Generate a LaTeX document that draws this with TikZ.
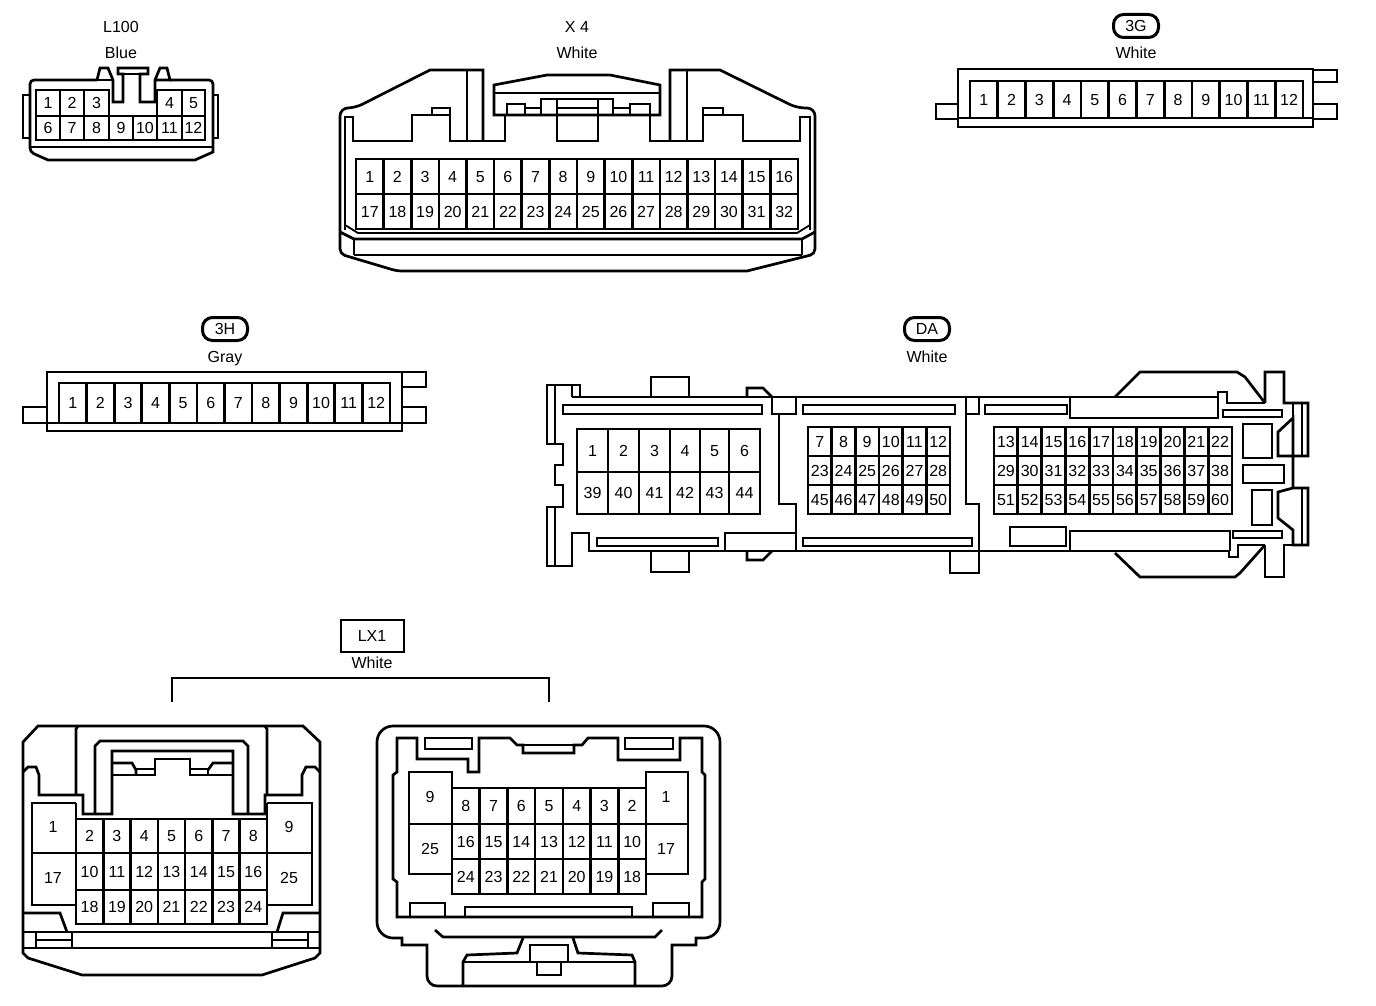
\documentclass[tikz,border=0pt]{standalone}
\usepackage{fontspec}
\setmainfont{Liberation Sans}
\tikzset{
  wire/.style={draw=black,line width=2.7pt,line join=miter},
  thin wire/.style={draw=black,line width=1.8pt},
  pinnum/.style={inner sep=0pt,text height=11.5pt,text depth=0pt,font=\fontsize{16}{16}\selectfont},
  caption/.style={inner sep=0pt,text height=11.5pt,text depth=3pt,yshift=-1.5pt,font=\fontsize{16}{16}\selectfont},
  tagoval/.style={draw=black,line width=3pt,rounded corners=10pt,minimum width=45pt,minimum height=23pt,inner sep=0pt,font=\fontsize{16}{16}\selectfont},
  tagbox/.style={draw=black,line width=2pt,minimum width=63pt,minimum height=32pt,inner sep=0pt,font=\fontsize{16}{16}\selectfont}
}
% prefix, x0, x1, y0, y1, first number, count, step
\newcommand{\pingrid}[8]{%
  \pgfmathsetmacro\cellw{(#3-#2)/#7}%
  \foreach \k in {1,...,#7}{%
    \pgfmathtruncatemacro\pinno{#6+(\k-1)*(#8)}%
    \pgfmathsetmacro\xa{#2+(\k-1)*\cellw}%
    \pgfmathsetmacro\xb{#2+\k*\cellw}%
    \pgfmathsetmacro\xm{(\xa+\xb)/2}%
    \pgfmathsetmacro\ym{(#4+#5)/2}%
    \draw[wire] (\xa,#4) rectangle (\xb,#5);
    \node[pinnum] (#1\pinno) at (\xm,\ym) {\pinno};
  }%
}
% prefix, y0, y1, list x0/x1/number
\newcommand{\pincells}[4]{%
  \foreach \xa/\xb/\pinno in {#4}{%
    \pgfmathsetmacro\xm{(\xa+\xb)/2}%
    \pgfmathsetmacro\ym{(#2+#3)/2}%
    \draw[wire] (\xa,#2) rectangle (\xb,#3);
    \node[pinnum] (#1\pinno) at (\xm,\ym) {\pinno};
  }%
}
\begin{document}
\begin{tikzpicture}[x=1pt,y=-1pt]
\useasboundingbox[fill=white] (0,0) rectangle (1376,1006);

% ---------- captions ----------
\node[caption] (capL) at (121,27) {L100};
\node[caption] (colL) at (121,53) {Blue};
\node[caption] (capX) at (577,27) {X 4};
\node[caption] (colX) at (577,53) {White};
\node[tagoval] (cap3G) at (1136,26) {3G};
\node[caption] (col3G) at (1136,53) {White};
\node[tagoval] (cap3H) at (225,329) {3H};
\node[caption] (col3H) at (225,357) {Gray};
\node[tagoval] (capDA) at (927,329) {DA};
\node[caption] (colDA) at (927,357) {White};
\node[tagbox] (capLX) at (372,636) {LX1};
\node[caption] (colLX) at (372,663) {White};
\draw[wire] (172,702) -- (172,678) -- (549,678) -- (549,702);

% ---------- L100 ----------
\draw[wire] (97,80) -- (36,80) [rounded corners=4pt] -- (30,80) -- (30,152) [sharp corners] -- (48,160) -- (195,160) -- (213,152) [rounded corners=4pt] -- (213,80) [sharp corners] -- (170,80);
\draw[wire] (30,147) -- (213,147);
\draw[wire] (30,95) -- (23,95) -- (23,138) -- (30,138);
\draw[wire] (213,95) -- (218,95) -- (218,138) -- (213,138);
\draw[wire] (97,80) -- (100,68) -- (108,68) -- (113,80) -- (113,102) -- (123,102) -- (123,74) -- (118,74) -- (118,68) -- (148,68) -- (148,74) -- (140,74) -- (140,102) -- (155,102) -- (155,80) -- (160,68) -- (167,68) -- (170,80) -- (155,80);
\draw[wire] (118,74) -- (148,74);
\draw[wire] (97,80) -- (113,80);
\pincells{lh}{90}{116}{36/60/1,60/84/2,84/109/3,157/182/4,182/205/5}
\pincells{lh}{116}{140}{36/60/6,60/84/7,84/109/8,109/133/9,133/157/10,157/182/11,182/205/12}

% ---------- X 4 ----------
\draw[wire] (340,245) [rounded corners=8pt] -- (340,108) -- (355,108) [sharp corners] -- (430,70) -- (483,70) -- (483,141);
\draw[wire] (467,70) -- (467,141);
\draw[wire] (815,245) [rounded corners=8pt] -- (815,108) -- (797,108) [sharp corners] -- (720,70) -- (670,70) -- (670,141);
\draw[wire] (687,70) -- (687,141);
\draw[wire] (345,230) -- (345,117) -- (353,117) -- (353,141) -- (412,141) -- (412,115) -- (432,115) -- (432,108) -- (450,108) -- (450,141) -- (505,141) -- (505,115);
\draw[wire] (432,115) -- (450,115);
\draw[wire] (810,230) -- (810,117) -- (800,117) -- (800,141) -- (743,141) -- (743,115) -- (723,115) -- (723,108) -- (703,108) -- (703,141) -- (650,141) -- (650,115);
\draw[wire] (703,115) -- (723,115);
\draw[wire] (494,115) -- (494,85) -- (547,75) -- (610,75) -- (660,85) -- (660,115) -- cycle;
\draw[wire] (494,93) -- (660,93);
\draw[wire] (507,115) -- (507,104) -- (525,104) -- (525,115);
\draw[wire] (630,115) -- (630,104) -- (650,104) -- (650,115);
\draw[wire] (525,108) -- (541,108);
\draw[wire] (613,108) -- (630,108);
\draw[wire] (541,115) -- (541,99) -- (613,99) -- (613,115);
\draw[wire] (557,99) -- (557,141) -- (598,141) -- (598,99);
\draw[wire] (557,108) -- (598,108);
\pingrid{xa}{356}{798}{159}{194}{1}{16}{1}
\pingrid{xb}{356}{798}{194}{229}{17}{16}{1}
\draw[thin wire] (345,225) -- (358,233) -- (797,233) -- (810,225);
\draw[wire] (340,232) -- (354,239) -- (802,239) -- (815,232);
\draw[wire] (354,239) -- (354,255);
\draw[wire] (802,239) -- (802,255);
\draw[wire] (354,255) -- (802,255);
\draw[wire] (340,245) [rounded corners=5pt] -- (340,254) -- (397,271) [sharp corners] -- (747,271) [rounded corners=5pt] -- (815,254) [sharp corners] -- (815,245);

% ---------- 3G ----------
\draw[wire] (958,69) rectangle (1313,127);
\draw[wire] (958,118) -- (1313,118);
\pingrid{ga}{970}{1303}{81}{118}{1}{12}{1}
\draw[wire] (958,104) -- (936,104) -- (936,119) -- (958,119);
\draw[wire] (1313,70) -- (1337,70) -- (1337,82) -- (1313,82);
\draw[wire] (1313,104) -- (1337,104) -- (1337,119) -- (1313,119);

% ---------- 3H ----------
\draw[wire] (47,372) rectangle (402,431);
\draw[wire] (47,423) -- (402,423);
\pingrid{ha}{59}{390}{383}{423}{1}{12}{1}
\draw[wire] (47,407) -- (23,407) -- (23,423) -- (47,423);
\draw[wire] (402,372) -- (426,372) -- (426,387) -- (402,387);
\draw[wire] (402,407) -- (426,407) -- (426,423) -- (402,423);

% ---------- DA ----------
\draw[wire] (572,397) -- (572,385) -- (547,385) -- (547,444) -- (563,444) -- (563,465) -- (555,465) -- (555,485) -- (563,485) -- (563,507) -- (547,507) -- (547,566) -- (572,566) -- (572,533) -- (589,533) -- (589,551) -- (1230,551);
\draw[wire] (572,385) -- (580,385) -- (580,397);
\draw[wire] (555,385) -- (555,444);
\draw[wire] (555,507) -- (555,566);
\draw[wire] (572,397) -- (1218,397) -- (1218,392) -- (1227,392) -- (1227,403) -- (1265,403);
\draw[wire] (651,397) -- (651,377) -- (689,377) -- (689,397);
\draw[wire] (651,551) -- (651,572) -- (689,572) -- (689,551);
\draw[wire] (563,405) rectangle (762,414);
\draw[wire] (597,538) rectangle (718,546);
\draw[wire] (747,397) -- (747,388) -- (763,388) -- (772,397);
\draw[wire] (747,551) -- (747,560) -- (763,560) -- (772,551);
\draw[wire] (772,397) -- (772,414) -- (796,414) -- (796,397);
\draw[wire] (779,414) -- (779,504) -- (796,504) -- (796,551);
\draw[wire] (796,533) -- (725,533) -- (725,551);
\draw[wire] (803,405) rectangle (955,414);
\draw[wire] (803,538) rectangle (972,546);
\pincells{da}{429}{472}{577/608/1,608/639/2,639/670/3,670/700/4,700/729/5,729/760/6}
\pincells{da}{472}{514}{577/608/39,608/639/40,639/670/41,670/700/42,700/729/43,729/760/44}
\pingrid{db}{808}{950}{427}{456}{7}{6}{1}
\pingrid{db}{808}{950}{456}{485}{23}{6}{1}
\pingrid{db}{808}{950}{485}{514}{45}{6}{1}
\pingrid{db}{994}{1232}{427}{456}{13}{10}{1}
\pingrid{db}{994}{1232}{456}{485}{29}{10}{1}
\pingrid{db}{994}{1232}{485}{514}{51}{10}{1}
\draw[wire] (966,397) -- (966,414) -- (979,414) -- (979,397);
\draw[wire] (966,414) -- (966,504) -- (979,504) -- (979,573) -- (950,573) -- (950,551);
\draw[wire] (985,405) rectangle (1067,414);
\draw[wire] (1070,397) -- (1070,418) -- (1218,418) -- (1218,397);
\draw[wire] (1115,397) -- (1140,372) -- (1237,372) -- (1245,377) -- (1265,403);
\draw[wire] (1265,403) -- (1265,372) -- (1284,372) -- (1284,403) -- (1308,403) -- (1308,456) -- (1278,456) -- (1278,432) -- (1293,418) -- (1293,488);
\draw[wire] (1302,403) -- (1302,456);
\draw[wire] (1293,403) -- (1293,418);
\draw[wire] (1293,488) -- (1308,488) -- (1308,545) -- (1293,545) -- (1293,530) -- (1278,518) -- (1278,492) -- (1293,488);
\draw[wire] (1302,488) -- (1302,545);
\draw[wire] (1293,530) -- (1293,545) -- (1284,545) -- (1284,577) -- (1265,577) -- (1265,545);
\draw[wire] (1265,545) -- (1240,573) -- (1235,577) -- (1140,577) -- (1115,553);
\draw[wire] (1265,545) -- (1238,545) -- (1238,557) -- (1229,557) -- (1229,551);
\draw[wire] (1070,551) -- (1070,531) -- (1230,531) -- (1230,551);
\draw[wire] (1010,527) rectangle (1066,546);
\draw[wire] (1223,410) rectangle (1282,417);
\draw[wire] (1233,531) rectangle (1282,538);
\draw[wire] (1243,424) rectangle (1272,458);
\draw[wire] (1243,465) rectangle (1284,483);
\draw[wire] (1252,490) rectangle (1272,525);

% ---------- LX1 left ----------
\draw[wire] (23,742) -- (38,726) -- (303,726) -- (320,742) -- (320,953) -- (315,958) -- (262,975) -- (82,975) -- (28,958) -- (23,953) -- cycle;
\draw[wire] (23,772) -- (28,767) -- (36,767) -- (39,775) -- (39,795) -- (83,795) -- (83,814) -- (112,814) -- (112,751) -- (233,751) -- (233,814) -- (265,814) -- (265,795) -- (302,795) -- (302,775) -- (306,767) -- (315,767) -- (320,772);
\draw[wire] (76,795) -- (76,729) -- (78,726);
\draw[wire] (267,795) -- (267,729) -- (265,726);
\draw[wire] (95,814) -- (95,746) -- (100,741) -- (243,741) -- (248,746) -- (248,814);
\draw[wire] (112,763) -- (132,763) -- (136,770) -- (136,775);
\draw[wire] (112,775) -- (155,775) -- (155,759) -- (190,759) -- (190,775) -- (233,775);
\draw[wire] (136,769) -- (155,769);
\draw[wire] (190,769) -- (208,769) -- (208,775);
\draw[wire] (208,770) -- (213,763) -- (233,763);
\pingrid{ma}{76}{267}{819}{853}{2}{7}{1}
\pingrid{ma}{76}{267}{853}{890}{10}{7}{1}
\pingrid{ma}{76}{267}{890}{924}{18}{7}{1}
\draw[wire] (76,803) -- (32,803) -- (32,905) -- (76,905);
\draw[wire] (32,853) -- (76,853);
\draw[wire] (76,803) -- (76,819);
\node[pinnum] (ma1) at (53,827) {1};
\node[pinnum] (ma17) at (53,878) {17};
\draw[wire] (267,803) -- (312,803) -- (312,905) -- (267,905);
\draw[wire] (267,853) -- (312,853);
\draw[wire] (267,803) -- (267,819);
\node[pinnum] (ma9) at (289,827) {9};
\node[pinnum] (ma25) at (289,878) {25};
\draw[wire] (23,913) -- (60,913) -- (67,932);
\draw[wire] (320,913) -- (283,913) -- (277,932);
\draw[wire] (23,932) -- (320,932);
\draw[wire] (23,948) -- (320,948);
\draw[wire] (36,932) -- (36,948);
\draw[wire] (72,932) -- (72,948);
\draw[wire] (36,940) -- (72,940);
\draw[wire] (308,932) -- (308,948);
\draw[wire] (272,932) -- (272,948);
\draw[wire] (272,940) -- (308,940);

% ---------- LX1 right ----------
\draw[wire] (402,938) [rounded corners=16pt] -- (377,938) -- (377,726) -- (720,726) -- (720,938) [sharp corners] -- (696,938) -- (696,945) -- (672,945) [rounded corners=10pt] -- (672,986) -- (427,986) [sharp corners] -- (427,945) -- (402,945) -- cycle;
\draw[wire] (397,738) -- (417,738) -- (417,759) -- (468,759) -- (468,772) -- (479,772) -- (479,738) -- (510,738) -- (517,745) -- (523,745) -- (523,753) -- (574,753) -- (574,745) -- (582,745) -- (588,738) -- (618,738) -- (618,760) -- (680,760) -- (680,738) -- (702,738) -- (702,772) -- (705,775) -- (705,879) -- (702,882) -- (702,917) -- (397,917) -- (397,882) -- (393,879) -- (393,775) -- (397,772) -- cycle;
\draw[wire] (517,745) -- (582,745);
\draw[wire] (425,738) rectangle (472,749);
\draw[wire] (625,738) rectangle (673,749);
\draw[wire] (410,917) -- (410,903) -- (445,903) -- (445,917);
\draw[wire] (465,917) -- (465,907) -- (632,907) -- (632,917);
\draw[wire] (653,917) -- (653,903) -- (689,903) -- (689,917);
\pingrid{na}{452}{646}{788}{824}{8}{7}{-1}
\pingrid{na}{452}{646}{824}{859}{16}{7}{-1}
\pingrid{na}{452}{646}{859}{894}{24}{7}{-1}
\draw[wire] (452,788) -- (452,772) -- (409,772) -- (409,874) -- (452,874);
\draw[wire] (409,824) -- (452,824);
\node[pinnum] (na9) at (430,797) {9};
\node[pinnum] (na25) at (430,849) {25};
\draw[wire] (646,788) -- (646,772) -- (688,772) -- (688,874) -- (646,874);
\draw[wire] (646,824) -- (688,824);
\node[pinnum] (na1) at (666,797) {1};
\node[pinnum] (na17) at (666,849) {17};
\draw[wire] (435,930) -- (443,937) -- (655,937) -- (662,930);
\draw[wire] (523,938) -- (517,953) -- (467,955) -- (463,962) -- (463,986);
\draw[wire] (573,938) -- (578,953) -- (632,955) -- (635,962) -- (635,986);
\draw[wire] (463,962) -- (635,962);
\draw[wire] (530,962) -- (530,945) -- (568,945) -- (568,962);
\draw[wire] (537,962) -- (537,975) -- (561,975) -- (561,962);
\end{tikzpicture}
\end{document}
